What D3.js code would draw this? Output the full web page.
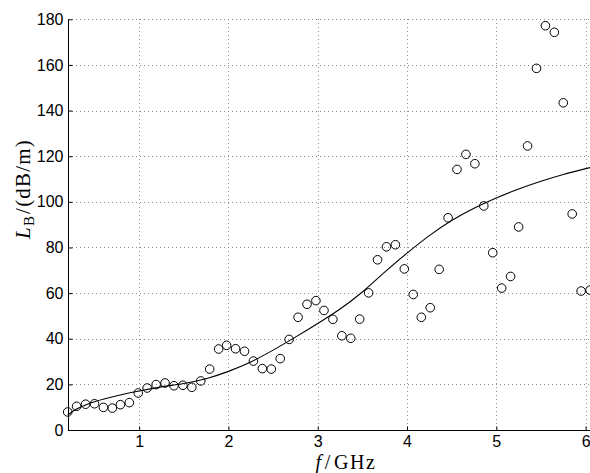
<!DOCTYPE html>
<html>
<head>
<meta charset="utf-8">
<script src="https://cdn.jsdelivr.net/npm/d3@7"></script>
<style>
  html, body { margin: 0; padding: 0; background: #fff; }
  svg { display: block; }
  .axis-title { font-family: "Liberation Serif", "Times New Roman", serif; font-size: 21px; fill: #000; }
</style>
</head>
<body>
<svg id="chart" width="590" height="473"></svg>
<script>
// Measured attenuation L_B (dB/m) versus frequency (GHz)
const freqGHz = [
  0.20, 0.30, 0.40, 0.50, 0.60, 0.70, 0.79, 0.89, 0.99, 1.09,
  1.19, 1.29, 1.39, 1.49, 1.59, 1.69, 1.79, 1.89, 1.98, 2.08,
  2.18, 2.28, 2.38, 2.48, 2.58, 2.68, 2.78, 2.88, 2.98, 3.07,
  3.17, 3.27, 3.37, 3.47, 3.57, 3.67, 3.77, 3.87, 3.97, 4.07,
  4.16, 4.26, 4.36, 4.46, 4.56, 4.66, 4.76, 4.86, 4.96, 5.06,
  5.16, 5.25, 5.35, 5.45, 5.55, 5.65, 5.75, 5.85, 5.95, 6.05
];
const lossMeasured = [
  7.9, 10.4, 11.3, 11.5, 9.9, 9.6, 11.1, 12.0, 16.2, 18.4,
  19.9, 20.6, 19.4, 19.6, 18.7, 21.5, 26.7, 35.5, 37.1, 35.6,
  34.5, 30.2, 26.9, 26.7, 31.3, 39.7, 49.4, 55.1, 56.7, 52.4,
  48.5, 41.3, 40.2, 48.6, 60.1, 74.6, 80.3, 81.2, 70.6, 59.4,
  49.4, 53.6, 70.4, 93.0, 114.2, 120.8, 116.7, 98.2, 77.7, 62.2,
  67.3, 89.0, 124.5, 158.5, 177.2, 174.3, 143.4, 94.7, 60.9, 61.3
];

// Smooth fitted curve, sampled along frequency
const fitFreq = [0.2, 0.3, 0.4, 0.5, 0.75, 1.0, 1.25, 1.5, 1.75, 2.0, 2.25, 2.5, 2.75,
                 3.0, 3.25, 3.5, 3.75, 4.0, 4.25, 4.5, 4.75, 5.0, 5.25, 5.5, 5.75, 6.05];
const fitLoss = [6.6, 9.2, 11.0, 12.4, 15.0, 17.1, 18.9, 20.4, 22.5, 25.7, 29.8, 35.0, 40.7,
                 46.7, 53.0, 60.5, 69.2, 77.5, 85.2, 91.8, 97.2, 101.7, 105.6, 109.0, 112.0, 115.0];

const xTicks = [1, 2, 3, 4, 5, 6];
const yTicks = [0, 20, 40, 60, 80, 100, 120, 140, 160, 180];

const W = 590, H = 473;
const plotLeft = 67.7, plotTop = 19.3, plotBottom = 430;

const svg = d3.select("#chart");

const x = d3.scaleLinear().domain([0.2, 6]).range([plotLeft, 585.6]);
const y = d3.scaleLinear().domain([0, 180]).range([plotBottom, plotTop]);

// dotted grid
const grid = svg.append("g")
  .attr("stroke", "#8c8c8c")
  .attr("stroke-width", 1)
  .attr("stroke-dasharray", "1,3")
  .attr("shape-rendering", "crispEdges");
grid.selectAll("line.gx").data(xTicks).join("line")
  .attr("x1", d => Math.round(x(d)) + 0.5).attr("x2", d => Math.round(x(d)) + 0.5)
  .attr("y1", plotTop).attr("y2", plotBottom);
grid.selectAll("line.gy").data(yTicks.filter(d => d > 0)).join("line")
  .attr("x1", plotLeft).attr("x2", W)
  .attr("y1", d => Math.round(y(d)) + 0.5).attr("y2", d => Math.round(y(d)) + 0.5);

// axes (inward ticks)
const yAxis = d3.axisLeft(y).tickValues(yTicks).tickSize(-4).tickPadding(5).tickFormat(d3.format("d"));
const gy = svg.append("g").attr("transform", `translate(${Math.round(plotLeft) + 0.5},0)`).call(yAxis);
const xAxis = d3.axisBottom(x).tickValues(xTicks).tickSize(-4).tickPadding(5).tickFormat(d3.format("d"));
const gx = svg.append("g").attr("transform", `translate(0,${Math.round(plotBottom) + 0.5})`).call(xAxis);

[gx, gy].forEach(g => {
  g.select(".domain").remove();
  g.selectAll(".tick line").attr("stroke", "#000").attr("stroke-width", 1);
  g.selectAll(".tick text").attr("fill", "#000")
    .style("font-family", '"Liberation Sans", Arial, sans-serif').style("font-size", "16px");
});

svg.append("line")
  .attr("x1", Math.round(plotLeft) + 0.5).attr("x2", Math.round(plotLeft) + 0.5)
  .attr("y1", plotTop).attr("y2", Math.round(plotBottom) + 0.5)
  .attr("stroke", "#000").attr("stroke-width", 1);
svg.append("line")
  .attr("x1", Math.round(plotLeft)).attr("x2", W)
  .attr("y1", Math.round(plotBottom) + 0.5).attr("y2", Math.round(plotBottom) + 0.5)
  .attr("stroke", "#000").attr("stroke-width", 1);

// fitted curve
const line = d3.line().x(d => x(d[0])).y(d => y(d[1])).curve(d3.curveCatmullRom.alpha(0.5));
svg.append("path")
  .datum(fitFreq.map((f, i) => [f, fitLoss[i]]))
  .attr("d", line)
  .attr("fill", "none")
  .attr("stroke", "#000")
  .attr("stroke-width", 1.1);

// measured points
svg.append("g").selectAll("circle")
  .data(freqGHz.map((f, i) => [f, lossMeasured[i]]))
  .join("circle")
  .attr("cx", d => x(d[0]))
  .attr("cy", d => y(d[1]))
  .attr("r", 4.3)
  .attr("fill", "none")
  .attr("stroke", "#000")
  .attr("stroke-width", 1);

// axis titles
const xt = svg.append("text").attr("class", "axis-title")
  .attr("x", 346).attr("y", 468.5).attr("text-anchor", "middle")
  .style("font-size", "20px")
  .style("letter-spacing", "1.6px");
xt.append("tspan").attr("font-style", "italic").text("f");
xt.append("tspan").attr("dx", 2).text("/");
xt.append("tspan").attr("dx", 2).text("GHz");

const yt = svg.append("text").attr("class", "axis-title")
  .attr("transform", "translate(30,189) rotate(-90)")
  .attr("text-anchor", "middle")
  .style("letter-spacing", "1.2px");
yt.append("tspan").attr("font-style", "italic").text("L");
yt.append("tspan").attr("font-size", "15px").attr("dy", 4).text("B");
yt.append("tspan").attr("dy", -4).attr("dx", 1).text("/(dB/m)");
</script>
</body>
</html>
